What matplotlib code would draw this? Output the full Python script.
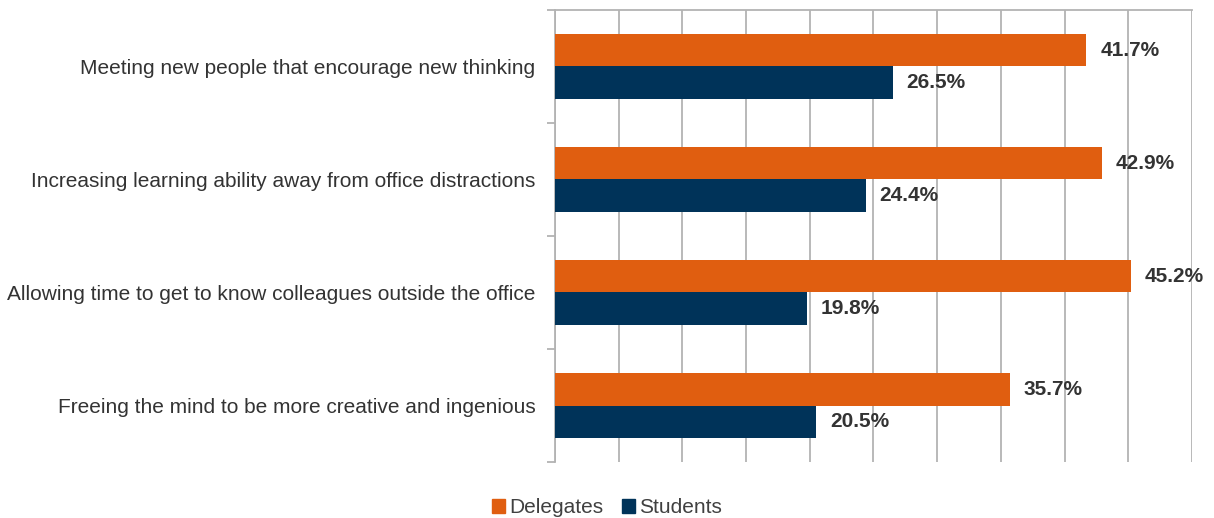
"""Horizontal grouped bars: benefits of off-site learning, delegates vs students."""

import matplotlib.pyplot as plt
import numpy as np
from matplotlib.patches import Patch

plt.rcParams["font.family"] = ["Liberation Sans", "DejaVu Sans"]

categories = [
    "Meeting new people that encourage new thinking",
    "Increasing learning ability away from office distractions",
    "Allowing time to get to know colleagues outside the office",
    "Freeing the mind to be more creative and ingenious",
]
delegates = [41.7, 42.9, 45.2, 35.7]
students = [26.5, 24.4, 19.8, 20.5]

ORANGE = "#E05E10"
NAVY = "#003359"
GRID = "#B3B3B3"
TEXT = "#333333"

fig = plt.figure(figsize=(12.14, 5.18), dpi=100)
ax = fig.add_axes([0.457, 0.108, 0.525, 0.873])

y = np.arange(len(categories))
h = 0.285
ax.barh(y - h / 2, delegates, height=h, color=ORANGE, zorder=3)
ax.barh(y + h / 2, students, height=h, color=NAVY, zorder=3)

for yi, d, s in zip(y, delegates, students):
    ax.annotate(f"{d:.1f}%", (d, yi - h / 2), xytext=(10, 0), textcoords="offset points",
                va="center", ha="left", fontsize=15, fontweight="bold", color=TEXT)
    ax.annotate(f"{s:.1f}%", (s, yi + h / 2), xytext=(10, 0), textcoords="offset points",
                va="center", ha="left", fontsize=15, fontweight="bold", color=TEXT)

ax.set_xlim(0, 50)
ax.set_ylim(len(categories) - 0.5, -0.5)
ax.set_xticks(np.arange(0, 51, 5))
ax.tick_params(axis="x", length=0, labelbottom=False)
ax.grid(axis="x", color=GRID, linewidth=1.3, zorder=0)

ax.set_yticks(y)
ax.set_yticklabels(categories, fontsize=15, color=TEXT)
ax.tick_params(axis="y", which="major", length=0, pad=14)
ax.set_yticks(np.arange(-0.5, len(categories)), minor=True)
ax.tick_params(axis="y", which="minor", length=6, color=GRID, width=1.3)

for side in ("right", "bottom"):
    ax.spines[side].set_visible(False)
for side in ("left", "top"):
    ax.spines[side].set_color(GRID)
    ax.spines[side].set_linewidth(1.3)

handles = [Patch(color=ORANGE, label="Delegates"), Patch(color=NAVY, label="Students")]
fig.legend(handles=handles, loc="lower center", bbox_to_anchor=(0.5, -0.035), ncol=2,
           frameon=False, fontsize=15, handlelength=0.6, handleheight=0.6,
           handletextpad=0.2, columnspacing=0.9, labelcolor="#404040")

fig.savefig("out.png", dpi=100)
